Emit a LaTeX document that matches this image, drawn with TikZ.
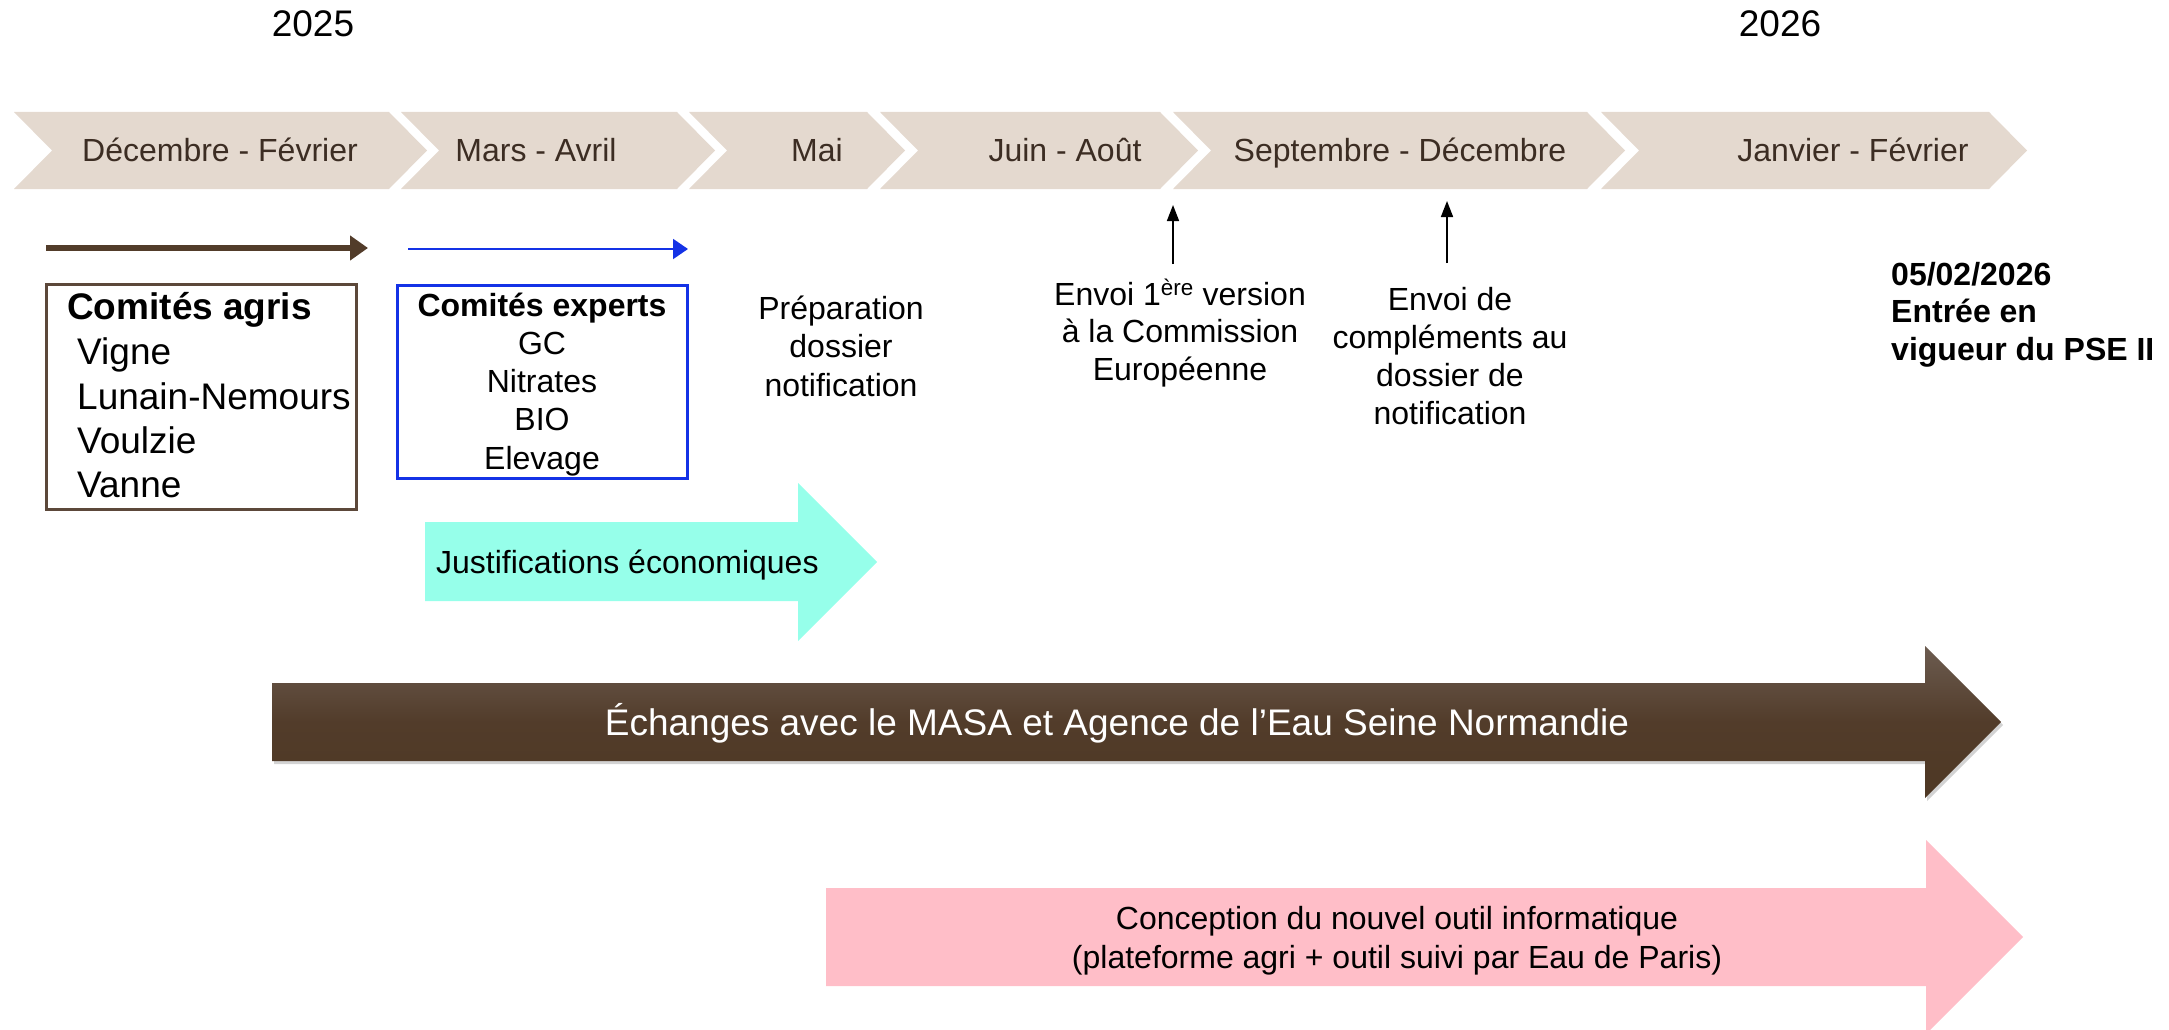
\documentclass[tikz,border=0pt]{standalone}
\usepackage{fontspec}
\setmainfont{Liberation Sans}
\usetikzlibrary{shadows,arrows.meta}
\definecolor{chev}{RGB}{228,217,207}
\definecolor{chevtxt}{RGB}{60,45,35}
\definecolor{brn}{RGB}{82,60,42}
\definecolor{brnbox}{RGB}{92,72,58}
\definecolor{blu}{RGB}{20,50,230}
\definecolor{aqua}{RGB}{150,255,234}
\definecolor{pnk}{RGB}{255,190,200}
\definecolor{brnTop}{RGB}{108,92,80}
\definecolor{brnBot}{RGB}{78,56,36}
\newcommand{\myfs}[1]{\fontsize{#1}{1.2\dimexpr#1pt\relax}\selectfont}
\begin{document}
\begin{tikzpicture}[x=1pt,y=-1pt,
  txt/.style={font=\myfs{32}, inner sep=0pt, anchor=base},
  txtl/.style={font=\myfs{32}, inner sep=0pt, anchor=base west},
  big/.style={font=\myfs{37}, inner sep=0pt},
  chevlab/.style={font=\myfs{32}, text=chevtxt, inner sep=0pt, anchor=base},
  bigarrow/.style={line width=0pt}]
\useasboundingbox (0,0) rectangle (2169,1030);

% years
\node[big, anchor=base] (y25) at (313,37) {2025};
\node[big, anchor=base] (y26) at (1780,37) {2026};

% chevrons
\foreach \l/\r in {14/389, 401/677, 689/867, 880/1160, 1173/1587, 1601/1989}{
  \fill[chev] (\l,112) -- (\r,112) -- (\r+38,150.5) -- (\r,189) -- (\l,189) -- (\l+38,150.5) -- cycle;
}
\node[chevlab] (c1) at (220,162) {Décembre - Février};
\node[chevlab] (c2) at (536,162) {Mars - Avril};
\node[chevlab] (c3) at (817,162) {Mai};
\node[chevlab] (c4) at (1065,162) {Juin - Août};
\node[chevlab] (c5) at (1400,162) {Septembre - Décembre};
\node[chevlab] (c6) at (1853,162) {Janvier - Février};

% small arrows above boxes
\coordinate (ba1) at (46,248);
\coordinate (ba2) at (368,248);
\draw[brn, line width=6pt, -{Triangle[length=18pt,width=24pt]}] (ba1) -- (ba2);
\coordinate (bb1) at (408,249);
\coordinate (bb2) at (688,249);
\draw[blu, line width=2pt, -{Triangle[length=15pt,width=20pt]}] (bb1) -- (bb2);

% Comités agris box
\node[draw=brnbox, line width=3pt, minimum width=310pt, minimum height=225pt, inner sep=0pt] (agris) at (201,396.5) {};
\node[big, anchor=base west, font=\myfs{37}\bfseries] (agT) at (67,319) {Comités agris};
\node[big, anchor=base west] (ag1) at (77,364) {Vigne};
\node[big, anchor=base west] (ag2) at (77,409) {Lunain-Nemours};
\node[big, anchor=base west] (ag3) at (77,453) {Voulzie};
\node[big, anchor=base west] (ag4) at (77,497) {Vanne};

% Comités experts box
\node[draw=blu, line width=3pt, minimum width=290pt, minimum height=193pt, inner sep=0pt] (exp) at (542,381.5) {};
\node[txt, font=\myfs{32}\bfseries] (exT) at (542,316) {Comités experts};
\node[txt] (ex1) at (542,354) {GC};
\node[txt] (ex2) at (542,392) {Nitrates};
\node[txt] (ex3) at (542,430.5) {BIO};
\node[txt] (ex4) at (542,469) {Elevage};

% Préparation
\node[txt] (p1) at (841,319) {Préparation};
\node[txt] (p2) at (841,357) {dossier};
\node[txt] (p3) at (841,396) {notification};

% Envoi 1ère version
\coordinate (u1a) at (1173,264);
\coordinate (u1b) at (1173,205);
\draw[black, line width=1.6pt, -{Triangle[length=16pt,width=12pt]}] (u1a) -- (u1b);
\node[txt] (e1) at (1180,305) {Envoi 1\textsuperscript{ère} version};
\node[txt] (e2) at (1180,342) {à la Commission};
\node[txt] (e3) at (1180,380) {Européenne};

% Envoi de compléments
\coordinate (u2a) at (1447,263);
\coordinate (u2b) at (1447,201);
\draw[black, line width=1.6pt, -{Triangle[length=16pt,width=12pt]}] (u2a) -- (u2b);
\node[txt] (f1) at (1450,310) {Envoi de};
\node[txt] (f2) at (1450,348) {compléments au};
\node[txt] (f3) at (1450,386) {dossier de};
\node[txt] (f4) at (1450,424) {notification};

% Entrée en vigueur
\node[txtl, font=\myfs{32}\bfseries] (g1) at (1891,285) {05/02/2026};
\node[txtl, font=\myfs{32}\bfseries] (g2) at (1891,322) {Entrée en};
\node[txtl, font=\myfs{32}\bfseries] (g3) at (1891,360) {vigueur du PSE II};

% Justifications économiques
\fill[aqua] (425,522) -- (798,522) -- (798,483) -- (877,562) -- (798,641) -- (798,601) -- (425,601) -- cycle;
\node[txtl] (just) at (436,573) {Justifications économiques};

% Échanges arrow
\path[top color=brnTop, bottom color=brnBot, middle color=brn,
  drop shadow={shadow xshift=2pt, shadow yshift=-3pt, opacity=0.35}]
  (272,683) -- (1925,683) -- (1925,646) -- (2001,722) -- (1925,798) -- (1925,761) -- (272,761) -- cycle;
\node[big, anchor=base, text=white] (ech) at (1117,735) {Échanges avec le MASA et Agence de l’Eau Seine Normandie};

% Conception arrow
\fill[pnk] (826,888) -- (1926,888) -- (1926,840) -- (2023,937) -- (1926,1034) -- (1926,986) -- (826,986) -- cycle;
\node[txt] (con1) at (1397,929.5) {Conception du nouvel outil informatique};
\node[txt] (con2) at (1397,968.5) {(plateforme agri + outil suivi par Eau de Paris)};
\end{tikzpicture}
\end{document}
